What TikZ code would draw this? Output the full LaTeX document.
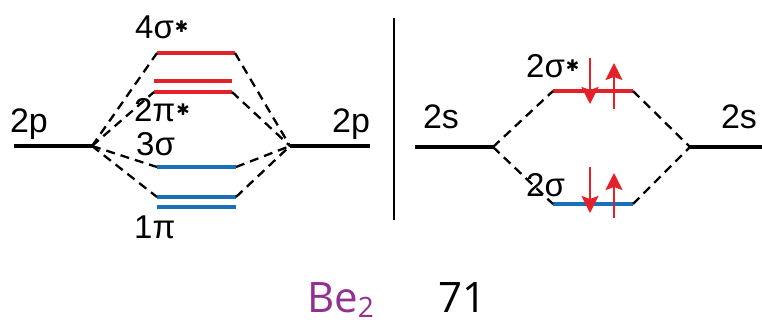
\documentclass[tikz,border=0pt]{standalone}
\usepackage{fontspec}
\setmainfont{Liberation Sans}
\newfontfamily\befont{Open Sans}
\newfontfamily\starfont{DejaVu Sans}
\usetikzlibrary{arrows.meta}
\definecolor{mored}{RGB}{228,32,40}
\definecolor{moblue}{RGB}{24,112,184}
\definecolor{bepurple}{RGB}{146,48,146}
\tikzset{
  aolevel/.style={line width=4pt, black},
  redlevel/.style={line width=4pt, mored},
  bluelevel/.style={line width=4pt, moblue},
  corr/.style={line width=2.3pt, dash pattern=on 9pt off 6pt},
  aolabel/.style={anchor=base, inner sep=0pt, font=\fontsize{34}{36}\selectfont},
  molabel/.style={anchor=base west, inner sep=0pt, font=\fontsize{33}{35}\selectfont},
  spin/.style={mored, line width=2.4pt, -{Stealth[length=17pt,width=17pt,inset=3pt]}}
}
\newcommand{\mostar}{\hspace{1pt}\raisebox{0.16em}{\starfont\fontsize{16}{16}\selectfont ✱}}
\begin{document}
\begin{tikzpicture}[x=1pt,y=-1pt]
\useasboundingbox (0,0) rectangle (762,325);
% ---- left panel: 2p ----
\coordinate (L2pa) at (14,146); \coordinate (L2pb) at (92,146);
\coordinate (R2pa) at (290,146); \coordinate (R2pb) at (370,146);
\coordinate (s4a) at (157,53);  \coordinate (s4b) at (235,53);
\coordinate (p2a) at (154,81);  \coordinate (p2b) at (232,81);
\coordinate (p2c) at (154,92);  \coordinate (p2d) at (232,92);
\coordinate (s3a) at (157,167); \coordinate (s3b) at (236,167);
\coordinate (p1a) at (157,197); \coordinate (p1b) at (236,197);
\coordinate (p1c) at (157,207); \coordinate (p1d) at (236,207);
\draw[aolevel] (L2pa) -- (L2pb);
\draw[aolevel] (R2pa) -- (R2pb);
\draw[redlevel] (s4a) -- (s4b);
\draw[redlevel] (p2a) -- (p2b);
\draw[redlevel] (p2c) -- (p2d);
\draw[bluelevel] (s3a) -- (s3b);
\draw[bluelevel] (p1a) -- (p1b);
\draw[bluelevel] (p1c) -- (p1d);
\draw[corr] (L2pb) -- (s4a);
\draw[corr] (L2pb) -- (p2c);
\draw[corr] (L2pb) -- (s3a);
\draw[corr] (L2pb) -- (p1a);
\draw[corr] (s4b) -- (R2pa);
\draw[corr] (p2d) -- (R2pa);
\draw[corr] (s3b) -- (R2pa);
\draw[corr] (p1b) -- (R2pa);
\node[aolabel] (t2pL) at (29,132) {2p};
\node[aolabel] (t2pR) at (351,132) {2p};
\node[molabel] (t4s) at (135,38) {4σ\mostar};
\node[molabel] (t2pi) at (134,121) {2π\mostar};
\node[molabel] (t3s) at (136,155) {3σ};
\node[molabel] (t1pi) at (134,238) {1π};
% ---- divider ----
\coordinate (dtop) at (394,18); \coordinate (dbot) at (394,220);
\draw[line width=2.2pt] (dtop) -- (dbot);
% ---- right panel: 2s ----
\coordinate (L2sa) at (415,147); \coordinate (L2sb) at (493,147);
\coordinate (R2sa) at (690,147); \coordinate (R2sb) at (762,147);
\coordinate (ss2a) at (553,91);  \coordinate (ss2b) at (633,91);
\coordinate (s2a) at (553,204);  \coordinate (s2b) at (633,204);
\draw[aolevel] (L2sa) -- (L2sb);
\draw[aolevel] (R2sa) -- (R2sb);
\draw[redlevel] (ss2a) -- (ss2b);
\draw[bluelevel] (s2a) -- (s2b);
\draw[corr] (L2sb) -- (ss2a);
\draw[corr] (L2sb) -- (s2a);
\draw[corr] (ss2b) -- (R2sa);
\draw[corr] (s2b) -- (R2sa);
\node[aolabel] (t2sL) at (441,128) {2s};
\node[aolabel] (t2sR) at (739,128) {2s};
\node[molabel] (t2ss) at (526,77) {2σ\mostar};
\node[molabel] (t2s) at (526,196) {2σ};
% spins
\coordinate (a1t) at (590,58);  \coordinate (a1b) at (590,104);
\coordinate (a2b) at (614,109); \coordinate (a2t) at (614,63);
\coordinate (a3t) at (590,167); \coordinate (a3b) at (590,213);
\coordinate (a4b) at (614,218); \coordinate (a4t) at (614,173);
\draw[spin] (a1t) -- (a1b);
\draw[spin] (a2b) -- (a2t);
\draw[spin] (a3t) -- (a3b);
\draw[spin] (a4b) -- (a4t);
% ---- caption ----
\node[anchor=base west, inner sep=0pt, text=bepurple, font=\befont\fontsize{42}{44}\selectfont] (be) at (307,312) {Be\raisebox{-0.12em}{\fontsize{28}{30}\selectfont 2}};
\node[anchor=base west, inner sep=0pt, font=\befont\fontsize{42}{44}\selectfont] (num) at (438,312) {71};
\end{tikzpicture}
\end{document}
